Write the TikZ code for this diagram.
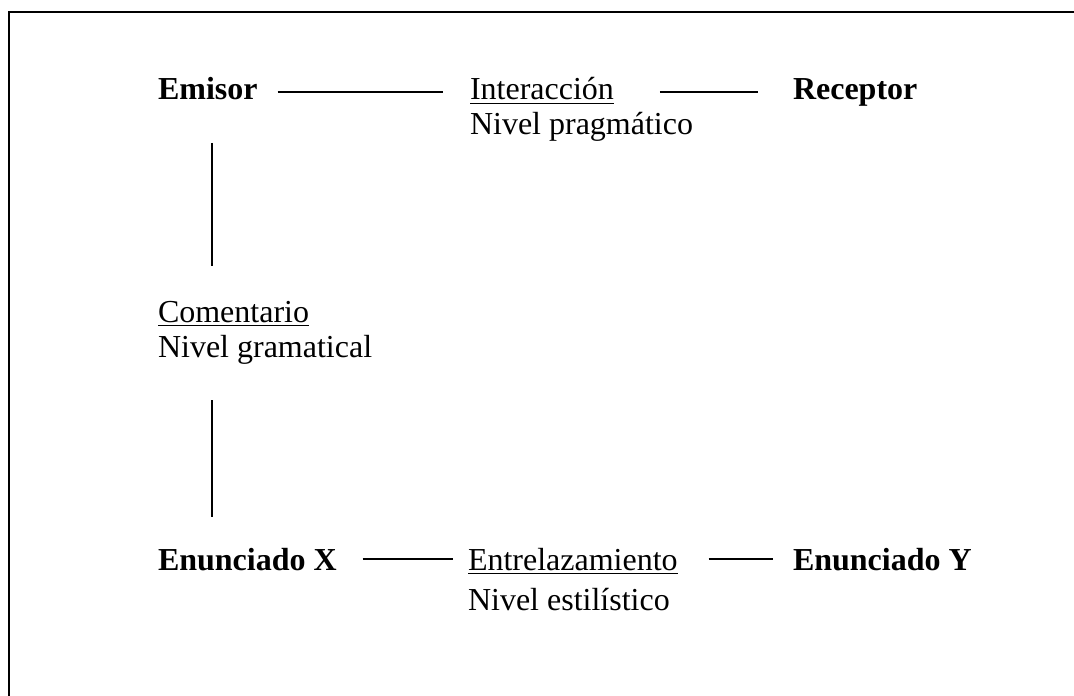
\documentclass[tikz,border=0pt]{standalone}
\usepackage{fontspec}
\setmainfont{Liberation Serif}
\usetikzlibrary{calc}
\newcommand\myul[1]{\setbox0\hbox{#1}\rlap{\rule[-2.2pt]{\wd0}{0.9pt}}\box0}
\tikzset{
  lbl/.style={anchor=base west, inner sep=0pt, outer sep=0pt, font=\fontsize{16}{19}\selectfont},
  bold/.style={lbl, font=\fontsize{16}{19}\selectfont\bfseries},
  conn/.style={line width=0.85pt},
  frame/.style={line width=1.4pt}
}
\begin{document}
\begin{tikzpicture}[x=0.5pt, y=-0.5pt]
\useasboundingbox (0,0) rectangle (1074,695);
\draw[frame] (9,700) -- (9,12) -- (1080,12);

\node[bold] (emisor) at (158,100) {Emisor};
\node[lbl] (inter) at (470,100) {\myul{Interacción}};
\node[lbl] (prag) at (470,135) {Nivel pragmático};
\node[bold] (receptor) at (793,100) {Receptor};

\node[lbl] (coment) at (158,322) {\myul{Comentario}};
\node[lbl] (gram) at (158,357) {Nivel gramatical};

\node[bold] (enx) at (158,570) {Enunciado X};
\node[lbl] (entre) at (468,570) {\myul{Entrelazamiento}};
\node[lbl] (estil) at (468,610) {Nivel estilístico};
\node[bold] (eny) at (793,570) {Enunciado Y};

\draw[conn] ($(emisor.base east)+(20,-8)$) -- ($(inter.base west)+(-27,-8)$);
\draw[conn] ($(inter.base east)+(46,-8)$) -- ($(receptor.base west)+(-35,-8)$);
\draw[conn] ($(enx.base east)+(26,-11)$) -- ($(entre.base west)+(-15,-11)$);
\draw[conn] ($(entre.base east)+(31,-11)$) -- ($(eny.base west)+(-20,-11)$);

\draw[conn] ($(emisor.base west)+(54,43)$) -- ($(coment.base west)+(54,-56)$);
\draw[conn] ($(gram.base west)+(54,43)$) -- ($(enx.base west)+(54,-53)$);
\end{tikzpicture}
\end{document}
